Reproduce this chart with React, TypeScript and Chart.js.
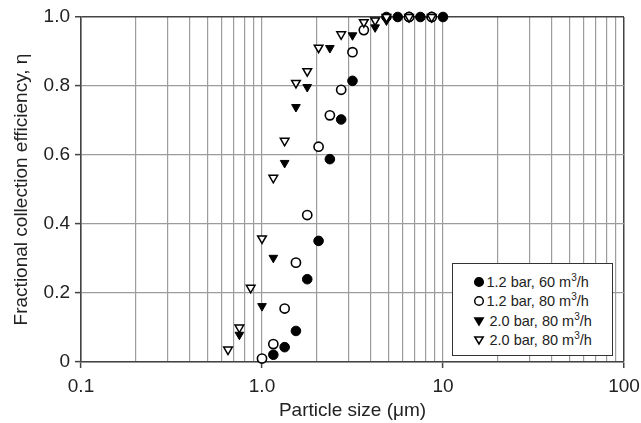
import React, { useEffect, useRef } from 'react';
import { Chart, registerables } from 'chart.js';

Chart.register(...registerables);

// ---- data ----
const s60X = [1.155, 1.334, 1.54, 1.778, 2.054, 2.371, 2.738, 3.162, 4.87, 5.623, 6.494, 7.499, 8.66, 10.0];
const s60Y = [0.021, 0.043, 0.09, 0.24, 0.351, 0.588, 0.703, 0.815, 1.0, 1.0, 1.0, 1.0, 1.0, 1.0];

const s80X = [1.0, 1.155, 1.334, 1.54, 1.778, 2.054, 2.371, 2.738, 3.162, 3.652, 6.494, 8.66];
const s80Y = [0.01, 0.052, 0.155, 0.288, 0.426, 0.624, 0.715, 0.789, 0.898, 0.962, 1.0, 1.0];

const p20aX = [0.75, 1.0, 1.155, 1.334, 1.54, 1.778, 2.371, 3.162, 4.217, 4.87];
const p20aY = [0.079, 0.162, 0.302, 0.577, 0.739, 0.797, 0.91, 0.947, 0.97, 0.99];

const p20bX = [0.649, 0.75, 0.866, 1.0, 1.155, 1.334, 1.54, 1.778, 2.054, 2.738, 3.652, 4.217, 4.87, 6.494, 8.66];
const p20bY = [0.036, 0.1, 0.215, 0.358, 0.534, 0.641, 0.809, 0.843, 0.911, 0.95, 0.985, 0.99, 1.0, 1.0, 1.0];

const seriesLabels = ['1.2 bar, 60 m', '1.2 bar, 80 m', '2.0 bar, 80 m', '2.0 bar, 80 m'];
const labelSup = '3';
const labelTail = '/h';

const xTickLabels = ['0.1', '1.0', '10', '100'];
const xDecades = [0.1, 1, 10];
const xMultipliers = [1, 2, 3, 4, 5, 6, 7, 8, 9];
const yTickLabels = ['0', '0.2', '0.4', '0.6', '0.8', '1.0'];

const xTitle = 'Particle size (\u03bcm)';
const yTitle = 'Fractional collection efficiency, \u03b7';

const FONT = '"Liberation Sans", Arial, Helvetica, sans-serif';
const TEXT = '#222';
const AXIS = '#444';
const GRID = '#9c9c9c';

function pts(xs: number[], ys: number[]) {
  return xs.map((x, i) => ({ x, y: ys[i] }));
}

function Marker({ kind }: { kind: number }) {
  const filled = kind === 0 || kind === 2;
  const fill = filled ? '#000' : '#fff';
  return (
    <svg width="12" height="12" viewBox="0 0 12 12" style={{ display: 'block' }}>
      {kind < 2 ? (
        <circle cx="6" cy="6" r="4.3" fill={fill} stroke="#000" strokeWidth="1.5" />
      ) : (
        <polygon points="1.8,3 10.2,3 6,10" fill={fill} stroke="#000" strokeWidth="1.5" strokeLinejoin="miter" />
      )}
    </svg>
  );
}

export default function App() {
  const ref = useRef<HTMLCanvasElement | null>(null);

  useEffect(() => {
    if (!ref.current) return;
    const majorLabel = (v: number) => {
      const e = Math.log10(v);
      if (Math.abs(e - Math.round(e)) < 1e-6) {
        return xTickLabels[Math.round(e) + 1] ?? '';
      }
      return '';
    };
    const isMajor = (v: number) => majorLabel(v) !== '';

    const chart = new Chart(ref.current, {
      type: 'scatter',
      data: {
        datasets: [
          {
            label: seriesLabels[0] + '\u00b3' + labelTail,
            data: pts(s60X, s60Y),
            pointStyle: 'circle',
            pointRadius: 4.8,
            backgroundColor: '#000',
            borderColor: '#000',
            borderWidth: 1,
            order: 4,
            clip: false,
          },
          {
            label: seriesLabels[1] + '\u00b3' + labelTail,
            data: pts(s80X, s80Y),
            pointStyle: 'circle',
            pointRadius: 4.6,
            backgroundColor: '#fff',
            borderColor: '#000',
            borderWidth: 1.6,
            order: 2,
            clip: false,
          },
          {
            label: seriesLabels[2] + '\u00b3' + labelTail,
            data: pts(p20aX, p20aY),
            pointStyle: 'triangle',
            pointRotation: 180,
            pointRadius: 5,
            backgroundColor: '#000',
            borderColor: '#000',
            borderWidth: 1,
            order: 3,
            clip: false,
          },
          {
            label: seriesLabels[3] + '\u00b3' + labelTail,
            data: pts(p20bX, p20bY),
            pointStyle: 'triangle',
            pointRotation: 180,
            pointRadius: 5,
            backgroundColor: '#fff',
            borderColor: '#000',
            borderWidth: 1.5,
            order: 1,
            clip: false,
          },
        ],
      },
      options: {
        animation: false,
        responsive: false,
        devicePixelRatio: 1,
        layout: { padding: { top: 17, right: 17, left: 0, bottom: 0 } },
        plugins: {
          legend: { display: false },
          tooltip: { enabled: false },
        },
        scales: {
          x: {
            type: 'logarithmic',
            min: 0.1,
            max: 100,
            afterBuildTicks: (s: any) => {
              const t: any[] = [];
              xDecades.forEach((d) => xMultipliers.forEach((m) => t.push({ value: +(d * m).toPrecision(6) })));
              t.push({ value: 100 });
              s.ticks = t;
            },
            afterFit: (s: any) => {
              s.height = 61;
              s.paddingLeft = 0;
              s.paddingRight = 0;
            },
            ticks: {
              autoSkip: false,
              maxRotation: 0,
              minRotation: 0,
              padding: 7,
              color: TEXT,
              font: { family: FONT, size: 19 },
              callback: (v: any) => majorLabel(Number(v)),
            },
            grid: {
              color: (c: any) => (c.tick && c.tick.value === 100 ? AXIS : GRID),
              lineWidth: (c: any) => (c.tick && c.tick.value === 100 ? 1.5 : 1.2),
              tickLength: 6,
              tickColor: (c: any) => (c.tick && isMajor(c.tick.value) ? AXIS : 'rgba(0,0,0,0)'),
              tickWidth: 1.5,
            },
            border: { display: true, color: AXIS, width: 1.6 },
            title: {
              display: true,
              text: xTitle,
              color: TEXT,
              font: { family: FONT, size: 19 },
              padding: { top: 0, bottom: 1 },
            },
          },
          y: {
            min: 0,
            max: 1,
            afterFit: (s: any) => {
              s.width = 81;
              s.paddingTop = 0;
              s.paddingBottom = 0;
            },
            ticks: {
              stepSize: 0.2,
              padding: 5,
              color: TEXT,
              font: { family: FONT, size: 19 },
              callback: (_v: any, i: number) => yTickLabels[i] ?? '',
            },
            grid: {
              color: (c: any) => (c.tick && Math.abs(c.tick.value - 1) < 1e-9 ? AXIS : GRID),
              lineWidth: (c: any) => (c.tick && Math.abs(c.tick.value - 1) < 1e-9 ? 1.5 : 1.2),
              tickLength: 6,
              tickColor: AXIS,
              tickWidth: 1.5,
            },
            border: { display: true, color: AXIS, width: 1.6 },
            title: {
              display: true,
              text: yTitle,
              color: TEXT,
              font: { family: FONT, size: 19 },
              padding: { top: 10, bottom: 0 },
            },
          },
        },
      },
    } as any);
    return () => chart.destroy();
  }, []);

  const rowCenters = [18, 37.3, 57, 76];

  return (
    <div style={{ position: 'absolute', left: 0, top: 0, width: 641, height: 423, background: '#fff' }}>
      <canvas ref={ref} width={641} height={423} style={{ display: 'block' }} />
      <div
        style={{
          position: 'absolute',
          left: 452,
          top: 263,
          width: 161,
          height: 93,
          boxSizing: 'border-box',
          border: '1.5px solid #333',
          background: '#fff',
          fontFamily: FONT,
          fontSize: '14.5px',
          color: TEXT,
        }}
      >
        {seriesLabels.map((lab, i) => (
          <div
            key={i}
            style={{
              position: 'absolute',
              left: 20,
              top: rowCenters[i] - 10,
              height: 20,
              display: 'flex',
              alignItems: 'center',
              whiteSpace: 'nowrap',
            }}
          >
            <Marker kind={i} />
            <span style={{ marginLeft: i < 2 ? 1.5 : 4.5 }}>
              {lab}
              <span style={{ fontSize: '10px', position: 'relative', top: '-6px' }}>{labelSup}</span>
              {labelTail}
            </span>
          </div>
        ))}
      </div>
    </div>
  );
}
